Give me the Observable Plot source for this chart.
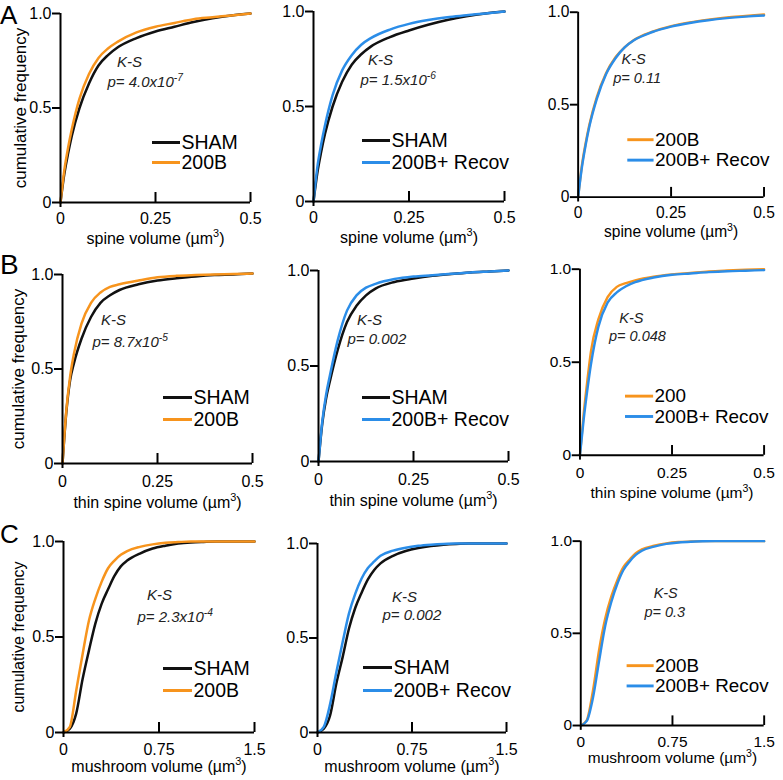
<!DOCTYPE html>
<html><head><meta charset="utf-8">
<script src="https://cdn.jsdelivr.net/npm/d3@7"></script>
<script src="https://cdn.jsdelivr.net/npm/@observablehq/plot@0.6"></script>
<style>
body{margin:0;background:#fff;}
#fig{position:relative;width:783px;height:780px;overflow:hidden;background:#fff;font-family:"Liberation Sans",Arial,Helvetica,sans-serif;}
.panel{position:absolute;}
.panel svg{overflow:visible;}
.letter{position:absolute;line-height:1;color:#000;}
</style></head><body><div id="fig"></div>
<script>
// ---------- data ----------
const spineX = [0,0.01,0.02,0.03,0.05,0.075,0.1,0.125,0.15,0.2,0.25,0.3,0.35,0.4,0.45,0.5];
const mushX  = [0,0.05,0.1,0.15,0.2,0.25,0.3,0.35,0.4,0.45,0.5,0.6,0.7,0.8,0.9,1.0,1.1,1.2,1.3,1.4,1.5];

const a1Sham  = [0,0.15,0.26,0.355,0.50,0.63,0.725,0.78,0.82,0.87,0.905,0.93,0.955,0.975,0.99,1.0];
const a1B200  = [0,0.17,0.29,0.39,0.55,0.68,0.765,0.815,0.85,0.90,0.93,0.95,0.97,0.98,0.99,1.0];
const a2Sham  = [0,0.15,0.26,0.355,0.50,0.63,0.72,0.775,0.815,0.865,0.90,0.93,0.955,0.975,0.99,1.0];
const a2Recov = [0,0.18,0.30,0.40,0.56,0.69,0.77,0.825,0.86,0.905,0.935,0.955,0.97,0.98,0.99,1.0];
const a3B200  = [0,0.17,0.29,0.39,0.54,0.67,0.755,0.81,0.85,0.895,0.925,0.945,0.96,0.972,0.98,0.988];
const a3Recov = [0,0.16,0.28,0.38,0.53,0.665,0.75,0.81,0.848,0.893,0.922,0.942,0.957,0.968,0.976,0.982];

const b1Sham  = [0,0.27,0.44,0.53,0.66,0.775,0.85,0.89,0.918,0.948,0.968,0.98,0.99,0.997,1.0,1.005];
const b1B200  = [0,0.28,0.46,0.58,0.74,0.85,0.905,0.935,0.948,0.968,0.985,0.993,0.997,1.0,1.002,1.005];
const b2Sham  = [0,0.20,0.33,0.42,0.58,0.73,0.815,0.87,0.905,0.94,0.958,0.972,0.982,0.99,0.995,1.0];
const b2Recov = [0,0.21,0.35,0.45,0.63,0.79,0.87,0.91,0.93,0.955,0.968,0.975,0.983,0.99,0.995,1.0];
const b3B200  = [0,0.22,0.40,0.56,0.73,0.85,0.905,0.925,0.94,0.96,0.972,0.98,0.988,0.993,0.997,1.0];
const b3Recov = [0,0.19,0.35,0.49,0.69,0.82,0.875,0.908,0.93,0.955,0.97,0.977,0.984,0.989,0.992,0.995];

const c1Sham  = [0,0.02,0.10,0.28,0.43,0.57,0.675,0.75,0.82,0.87,0.90,0.937,0.963,0.978,0.989,0.995,0.998,1,1,1,1];
const c1B200  = [0,0.03,0.22,0.41,0.586,0.70,0.79,0.86,0.90,0.93,0.95,0.972,0.985,0.993,0.997,1,1,1,1,1,1];
const c2Sham  = [0,0.02,0.09,0.26,0.40,0.55,0.66,0.74,0.81,0.86,0.895,0.935,0.96,0.976,0.987,0.994,0.998,1,1,1,1];
const c2Recov = [0,0.03,0.15,0.32,0.48,0.63,0.735,0.815,0.87,0.905,0.935,0.962,0.978,0.988,0.994,0.998,1,1,1,1,1];
const c3B200  = [0,0.03,0.19,0.41,0.58,0.70,0.79,0.86,0.90,0.935,0.955,0.975,0.988,0.995,0.998,1,1,1,1,1,1];
const c3Recov = [0,0.025,0.15,0.35,0.54,0.67,0.77,0.845,0.89,0.925,0.948,0.97,0.985,0.993,0.997,0.999,1,1,1,1,1];

const yTicks = [0, 0.5, 1];
const spineTicks = [0, 0.25, 0.5];
const mushTicks = [0, 0.75, 1.5];
const rowLetters = ["A","B","C"];
const xLabels = ["spine volume (µm^3^)", "thin spine volume (µm^3^)", "mushroom volume (µm^3^)"];
const yLabel = "cumulative frequency";
const ksLabel = "K-S";
const pLabels = ["p= 4.0x10^-7^","p= 1.5x10^-6^","p= 0.11","p= 8.7x10^-5^","p= 0.002","p= 0.048","p= 2.3x10^-4^","p= 0.002","p= 0.3"];
const legendLabels = [
  ["SHAM","200B"],["SHAM","200B+ Recov"],["200B","200B+ Recov"],
  ["SHAM","200B"],["SHAM","200B+ Recov"],["200","200B+ Recov"],
  ["SHAM","200B"],["SHAM","200B+ Recov"],["200B","200B+ Recov"]
];
const seriesKinds = [
  ["sham","b200"],["sham","recov"],["b200","recov"],
  ["sham","b200"],["sham","recov"],["b200","recov"],
  ["sham","b200"],["sham","recov"],["b200","recov"]
];
const seriesValues = [
  [a1Sham,a1B200],[a2Sham,a2Recov],[a3B200,a3Recov],
  [b1Sham,b1B200],[b2Sham,b2Recov],[b3B200,b3Recov],
  [c1Sham,c1B200],[c2Sham,c2Recov],[c3B200,c3Recov]
];

// ---------- styles / layout ----------
const colors = {sham:"#111111", b200:"#F7941D", recov:"#2B8DE8"};
const FONT = '"Liberation Sans", Arial, Helvetica, sans-serif';
const rowStyle = [
  {xmax:0.5, grid:spineX, ticks:spineTicks, tickPad:10, xLabelDy:36, yLabelDx:-40, yLabelSize:17},
  {xmax:0.5, grid:spineX, ticks:spineTicks, tickPad:12, xLabelDy:39, yLabelDx:-44, yLabelSize:17},
  {xmax:1.5, grid:mushX,  ticks:mushTicks,  tickPad:11, xLabelDy:34, yLabelDx:-45, yLabelSize:16}
];
// page-pixel layout of each panel (axis origin, frame extent, annotations)
const layout = [
  {ax:60, right:250, top:13, bottom:202, lx1:152, lx2:180, ly:[142,162], ksx:129, ksy:62, px:107, py:82},
  {ax:313,right:504, top:11, bottom:201, lx1:362, lx2:390, ly:[140,162], ksx:380, ksy:60, px:360, py:80},
  {ax:579,right:770, top:12, bottom:202, lx1:630, lx2:657, ly:[143,164], ksx:636, ksy:60, px:615, py:80},
  {ax:62, right:252, top:274,bottom:463, lx1:163, lx2:192, ly:[397,419], ksx:113, ksy:320, px:92, py:342},
  {ax:318,right:508, top:270,bottom:461, lx1:362, lx2:390, ly:[397,419], ksx:369, ksy:320, px:347, py:339},
  {ax:581,right:771, top:269,bottom:461, lx1:628, lx2:657, ly:[400,421], ksx:634, ksy:320, px:611, py:338},
  {ax:63, right:254, top:541,bottom:732, lx1:163, lx2:192, ly:[668,690], ksx:159, ksy:595, px:137, py:617},
  {ax:317,right:506, top:543,bottom:732, lx1:363, lx2:392, ly:[667,690], ksx:404, ksy:597, px:382, py:615},
  {ax:582,right:772, top:541,bottom:732, lx1:630, lx2:658, ly:[670,691], ksx:670, ksy:595, px:648, py:615}
];
const letterPos = [{top:2,size:26},{top:251,size:28},{top:521,size:26}];

const ML=50, MT=10, MR=20, MB=55;
const fig = document.getElementById("fig");
const svgns = "http://www.w3.org/2000/svg";

function supify(root){
  root.querySelectorAll("text").forEach(t=>{
    const s = t.textContent;
    if(!s.includes("^")) return;
    const [a,b,c] = s.split("^");
    const fs = parseFloat(getComputedStyle(t).fontSize) || 16;
    const shift = fs*0.4;
    t.textContent = "";
    t.appendChild(document.createTextNode(a));
    const sup = document.createElementNS(svgns,"tspan");
    sup.setAttribute("dy", -shift);
    sup.setAttribute("font-size", (fs*0.68).toFixed(1));
    sup.textContent = b;
    t.appendChild(sup);
    if(c){
      const r = document.createElementNS(svgns,"tspan");
      r.setAttribute("dy", shift);
      r.textContent = c;
      t.appendChild(r);
    }
  });
}

const fmt = d => d === 0 ? "0" : String(d);
const fmtY = d => d === 0 ? "0" : d.toFixed(1);

for(let i=0;i<9;i++){
  const row = Math.floor(i/3), col = i%3;
  const R = rowStyle[row], L = layout[i];
  const pw = L.right - L.ax, ph = L.bottom - L.top;
  const invx = px => (px - L.ax)/pw * R.xmax;
  const invy = py => (L.bottom - py)/ph;

  const kinds = seriesKinds[i], vals = seriesValues[i];
  const lineMarks = kinds.map((k,j) => Plot.line(
    R.grid.map((x,n)=>({x, y: vals[j][n]})),
    {x:"x", y:"y", stroke: colors[k], strokeWidth: 2.5, curve: "monotone-x"}
  ));
  const legendRows = legendLabels[i].map((lab,j)=>({lab, kind: kinds[j], y: invy(L.ly[j])}));

  const marks = [
    ...lineMarks,
    Plot.ruleY([0], {stroke:"#000", strokeWidth:2}),
    Plot.ruleX([0], {stroke:"#000", strokeWidth:2, insetBottom:-5}),
    Plot.tickX(R.ticks.filter(d=>d>0), {x:d=>d, stroke:"#000", strokeWidth:2, insetTop: ph-10}),
    Plot.axisY(yTicks, {tickSize:8, tickPadding:1, tickFormat:fmtY, fontSize:16, label:null, strokeWidth:2}),
    Plot.axisX(R.ticks, {tickSize:0, tickPadding:R.tickPad, tickFormat:fmt, fontSize:16, label:null}),
    Plot.text([xLabels[row]], {frameAnchor:"bottom", lineAnchor:"middle", textAnchor:"middle", dy:R.xLabelDy, text:d=>d, fontSize:16, fill:"#000"}),
    Plot.ruleY(legendRows, {y:"y", x1: invx(L.lx1), x2: invx(L.lx2), stroke: d=>colors[d.kind], strokeWidth:3}),
    Plot.text(legendRows, {y:"y", x: invx(L.lx2 + 1), text:"lab", textAnchor:"start", fontSize:19.5, fill:"#000"}),
    Plot.text([ksLabel], {x: invx(L.ksx), y: invy(L.ksy), text:d=>d, fontSize:15, fontStyle:"italic", fill:"#222"}),
    Plot.text([pLabels[i]], {x: invx(L.px), y: invy(L.py), text:d=>d, textAnchor:"start", fontSize:15, fontStyle:"italic", fill:"#222"})
  ];
  if(col === 0){
    marks.push(Plot.text([yLabel], {frameAnchor:"left", textAnchor:"middle", lineAnchor:"middle", dx:R.yLabelDx, rotate:-90, text:d=>d, fontSize:R.yLabelSize, fill:"#000"}));
  }

  const chart = Plot.plot({
    width: ML + pw + MR,
    height: MT + ph + MB,
    marginLeft: ML, marginRight: MR, marginTop: MT, marginBottom: MB,
    x: {domain:[0, R.xmax]},
    y: {domain:[0, 1]},
    style: {fontFamily: FONT, color:"#000", background:"transparent", overflow:"visible"},
    marks
  });
  const div = document.createElement("div");
  div.className = "panel";
  div.style.left = (L.ax - ML) + "px";
  div.style.top = (L.top - MT) + "px";
  div.appendChild(chart);
  fig.appendChild(div);
  supify(chart);
}

rowLetters.forEach((t,r)=>{
  const d = document.createElement("div");
  d.className = "letter";
  d.textContent = t;
  d.style.left = "0px";
  d.style.top = letterPos[r].top + "px";
  d.style.fontSize = letterPos[r].size + "px";
  fig.appendChild(d);
});
</script></body></html>
